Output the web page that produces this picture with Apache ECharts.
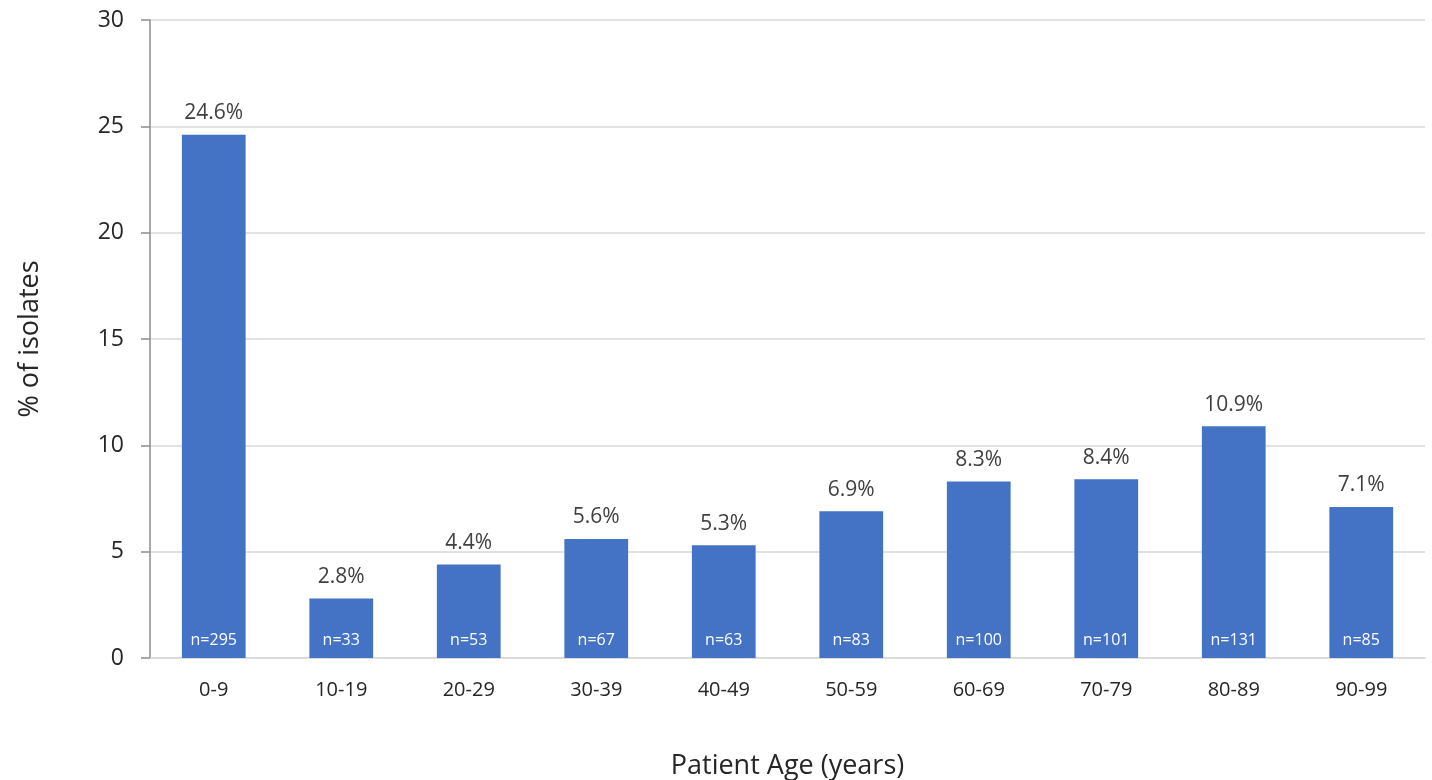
<!DOCTYPE html>
<html>
<head>
<meta charset="utf-8">
<script src="https://cdn.jsdelivr.net/npm/echarts@6/dist/echarts.min.js"></script>
<style>
  html, body { margin: 0; padding: 0; background: #fff; }
  #Chart { width: 1432px; height: 780px; }
</style>
</head>
<body>
<div id="Chart"></div>
<script>
  // age groups and percent of isolates
  var ageGroups = ['0-9', '10-19', '20-29', '30-39', '40-49', '50-59', '60-69', '70-79', '80-89', '90-99'];
  var percents = [24.6, 2.8, 4.4, 5.6, 5.3, 6.9, 8.3, 8.4, 10.9, 7.1];
  var counts = [295, 33, 53, 67, 63, 83, 100, 101, 131, 85];
  var yTicks = [0, 5, 10, 15, 20, 25, 30];

  var font = '"Open Sans", "Noto Sans", sans-serif';
  var Chart = echarts.init(document.getElementById('Chart'));

  Chart.setOption({
    animation: false,
    grid: { left: 150, right: 7, top: 20, bottom: 122, outerBoundsMode: 'none', containLabel: false },
    xAxis: {
      type: 'category',
      data: ageGroups,
      name: 'Patient Age (years)',
      nameLocation: 'middle',
      nameGap: 95,
      nameTextStyle: { fontFamily: font, fontSize: 27, color: '#262626' },
      axisLine: { lineStyle: { color: '#d9d9d9', width: 1.5 } },
      axisTick: { show: false },
      axisLabel: { fontFamily: font, fontSize: 20, color: '#262626', margin: 22 }
    },
    yAxis: {
      type: 'value',
      min: yTicks[0],
      max: yTicks[yTicks.length - 1],
      interval: 5,
      name: '% of isolates',
      nameLocation: 'middle',
      nameGap: 106,
      nameTextStyle: { fontFamily: font, fontSize: 27, color: '#262626' },
      axisLine: { show: true, lineStyle: { color: '#8c8c8c', width: 1.5 } },
      axisTick: { show: true, length: 9, lineStyle: { color: '#8c8c8c', width: 1.5 } },
      axisLabel: { fontFamily: font, fontSize: 23, color: '#262626', margin: 26 },
      splitLine: { lineStyle: { color: '#d9d9d9', width: 1.5 } }
    },
    series: [{
      type: 'bar',
      data: percents,
      barWidth: '50%',
      itemStyle: { color: '#4472c4' },
      label: {
        show: true,
        position: 'insideBottom',
        distance: 10,
        fontFamily: font,
        fontSize: 16,
        color: '#fff',
        formatter: function (p) { return 'n=' + counts[p.dataIndex]; }
      }
    }, {
      type: 'bar',
      data: percents,
      barWidth: '50%',
      barGap: '-100%',
      itemStyle: { color: 'rgba(0,0,0,0)' },
      silent: true,
      label: {
        show: true,
        position: 'top',
        distance: 11,
        fontFamily: font,
        fontSize: 21,
        color: '#404040',
        formatter: function (p) { return p.value.toFixed(1) + '%'; }
      }
    }]
  });
</script>
</body>
</html>
